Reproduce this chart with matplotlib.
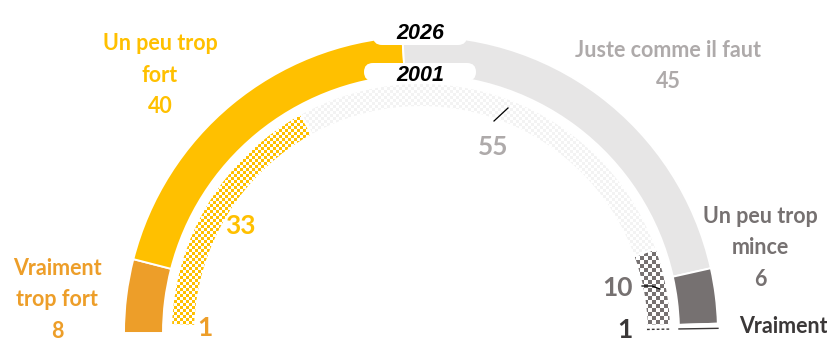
import numpy as np
import matplotlib
matplotlib.use("Agg")
import matplotlib.pyplot as plt
from matplotlib.patches import Wedge, FancyBboxPatch

# Survey answers, share of respondents (%)
categories = ["Vraiment trop fort", "Un peu trop fort", "Juste comme il faut",
              "Un peu trop mince", "Vraiment trop mince"]
values_2026 = [8, 40, 45, 6, 1]
values_2001 = [1, 33, 55, 10, 1]
years = ["2026", "2001"]

colors_2026 = ["#ED9E29", "#FFC000", "#E7E6E6", "#767171", "#FFFFFF"]
checker_2001 = ["#FFFFFF", "#FFC000", "#F3F3F3", "#767171", "#FFFFFF"]
label_colors = ["#ED9E29", "#FFC000", "#AEAAAA", "#767171", "#3B3838"]

W, H = 828, 347
fig = plt.figure(figsize=(W / 100, H / 100), dpi=100)
ax = fig.add_axes([0, 0, 1, 1])
ax.set_xlim(0, W)
ax.set_ylim(0, H)
ax.axis("off")


def py(y):
    """Convert a top-down pixel row to axis y."""
    return H - y


CX, CY = 421, py(333)
R_OUT, W_OUT = 297, 39
R_IN, W_IN = 250, 24
DEG_PER_PCT = 180 / 100

FONT = ["Lato", "DejaVu Sans"]


def angles(values):
    cum = np.concatenate([[0], np.cumsum(values)])
    # start at the left (180°) and sweep clockwise over the top
    return [(180 - DEG_PER_PCT * cum[i + 1], 180 - DEG_PER_PCT * cum[i])
            for i in range(len(values))]


def checker_image(color, cell):
    yy, xx = np.mgrid[0:H, 0:W]
    mask = ((yy // cell + xx // cell) % 2) == 0
    rgb = np.array(matplotlib.colors.to_rgb(color))
    img = np.ones((H, W, 3))
    img[mask] = rgb
    return img


# Outer ring: 2026
for (t1, t2), col in zip(angles(values_2026), colors_2026):
    ax.add_patch(Wedge((CX, CY), R_OUT, t1, t2, width=W_OUT,
                       facecolor=col, edgecolor="white", linewidth=1.4, zorder=2))

# Inner ring: 2001, checkerboard fill
for i, ((t1, t2), col) in enumerate(zip(angles(values_2001), checker_2001)):
    w = Wedge((CX, CY), R_IN, t1, t2, width=W_IN,
              facecolor="none", edgecolor="none", zorder=2)
    ax.add_patch(w)
    if col.upper() != "#FFFFFF":
        cell = 4 if i == 3 else 3
        im = ax.imshow(checker_image(col, cell), extent=(0, W, 0, H),
                       origin="upper", interpolation="nearest", zorder=2,
                       aspect="auto")
        im.set_clip_path(w)
    ax.add_patch(Wedge((CX, CY), R_IN, t1, t2, width=W_IN, facecolor="none",
                       edgecolor="white", linewidth=1.4, zorder=3))

# Thin end slices shown as short strokes
a_out = angles(values_2026)[-1]
a_in = angles(values_2001)[-1]
for (t1, t2), r, wd, ls in [(a_out, R_OUT, W_OUT, "-"), (a_in, R_IN, W_IN, (0, (2, 1.5)))]:
    mid = np.deg2rad((t1 + t2) / 2)
    ax.plot([CX + (r - wd) * np.cos(mid), CX + r * np.cos(mid)],
            [CY + (r - wd) * np.sin(mid), CY + r * np.sin(mid)],
            color="#3B3838", lw=1.0, linestyle=ls, zorder=4)

# Year tags on white rounded plates
ax.add_patch(FancyBboxPatch((373, py(45)), 94, 26,
                            boxstyle="round,pad=0,rounding_size=9",
                            facecolor="white", edgecolor="none", zorder=5))
ax.add_patch(FancyBboxPatch((364, py(81)), 112, 18,
                            boxstyle="round,pad=0,rounding_size=9",
                            facecolor="white", edgecolor="none", zorder=5))
ax.text(420, py(33), years[0], ha="center", va="center", fontsize=15.5,
        fontweight="bold", fontstyle="italic", family="Liberation Sans",
        color="black", zorder=6)
ax.text(420, py(75), years[1], ha="center", va="center", fontsize=15.5,
        fontweight="bold", fontstyle="italic", family="Liberation Sans",
        color="black", zorder=6)

# Category labels with 2026 values
outer_labels = [
    ("Vraiment\ntrop fort", 57, 300),
    ("Un peu trop\nfort", 160, 75),
    ("Juste comme il faut", 668, 66),
    ("Un peu trop\nmince", 760, 248),
    ("Vraiment\ntrop mince", 783, 358),
]
for (txt, x, y), v, col in zip(outer_labels, values_2026, label_colors):
    ax.text(x, py(y), f"{txt}\n{v}", ha="center", va="center", fontsize=15.5,
            fontweight="bold", family=FONT, color=col, linespacing=1.63,
            zorder=6)

# 2001 values
inner_pos = [(205, 328), (240, 226), (493, 147), (618, 288), (625, 330)]
inner_colors = ["#ED9E29", "#FFC000", "#AEAAAA", "#767171", "#3B3838"]
for (x, y), v, col in zip(inner_pos, values_2001, inner_colors):
    ax.text(x, py(y), str(v), ha="center", va="center", fontsize=19,
            fontweight="bold", family=FONT, color=col, zorder=6)

# Leader lines
ax.plot([494, 508], [py(121), py(108)], color="black", lw=0.9, zorder=6)
ax.plot([642, 652, 660], [py(286), py(286), py(289)], color="black", lw=0.9,
        zorder=6)

fig.savefig("out.png", dpi=100, facecolor="white")
